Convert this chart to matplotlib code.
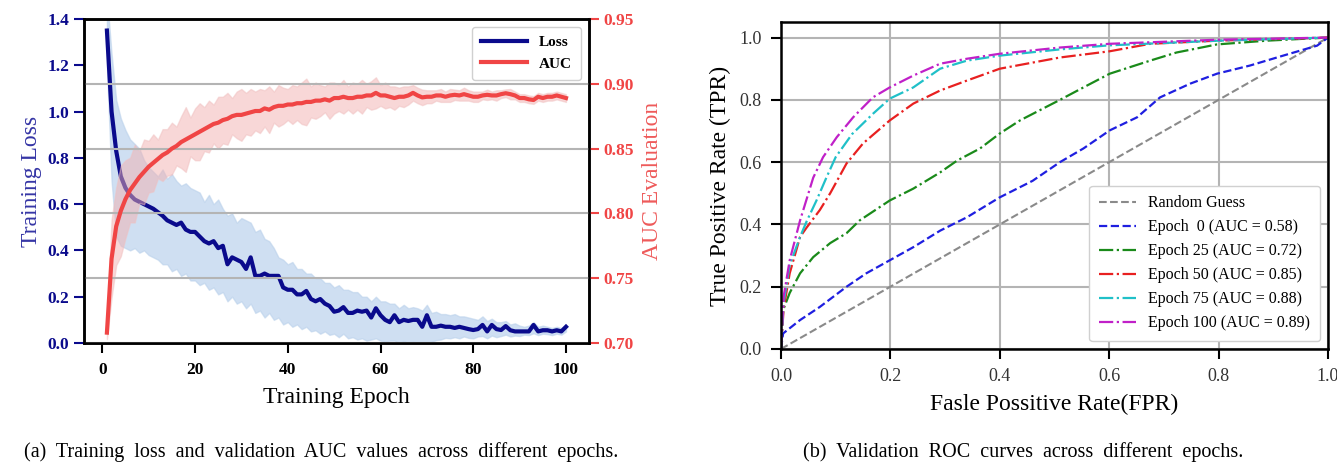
import numpy as np
import matplotlib
matplotlib.use("Agg")
import matplotlib.pyplot as plt

plt.rcParams["font.family"] = ["Liberation Serif", "DejaVu Serif"]
plt.rcParams["mathtext.fontset"] = "stix"

# ─── (a) training loss / validation AUC ──────────────────────────────────
epochs = list(range(1, 101))

loss_mean = [
    1.35, 1.00, 0.83, 0.72, 0.67, 0.64, 0.62, 0.61, 0.60, 0.59,
    0.58, 0.565, 0.55, 0.53, 0.52, 0.51, 0.52, 0.49, 0.48, 0.48,
    0.46, 0.44, 0.43, 0.44, 0.41, 0.42, 0.34, 0.37, 0.36, 0.35,
    0.32, 0.37, 0.29, 0.29, 0.30, 0.29, 0.29, 0.29, 0.24, 0.23,
    0.23, 0.21, 0.21, 0.225, 0.19, 0.18, 0.19, 0.17, 0.16, 0.135,
    0.14, 0.155, 0.13, 0.13, 0.14, 0.135, 0.14, 0.11, 0.15, 0.12,
    0.10, 0.09, 0.12, 0.09, 0.10, 0.095, 0.10, 0.10, 0.07, 0.12,
    0.07, 0.07, 0.075, 0.07, 0.07, 0.065, 0.07, 0.065, 0.06, 0.056,
    0.06, 0.078, 0.05, 0.078, 0.06, 0.056, 0.073, 0.055, 0.05, 0.05,
    0.05, 0.05, 0.078, 0.05, 0.055, 0.055, 0.05, 0.055, 0.05, 0.07,
]
loss_hi = [
    1.50, 1.25, 1.05, 0.97, 0.92, 0.88, 0.86, 0.84, 0.79, 0.76,
    0.74, 0.72, 0.75, 0.71, 0.73, 0.70, 0.68, 0.69, 0.67, 0.66,
    0.65, 0.61, 0.64, 0.60, 0.62, 0.58, 0.55, 0.56, 0.52, 0.54,
    0.53, 0.52, 0.48, 0.49, 0.45, 0.44, 0.41, 0.37, 0.36, 0.34,
    0.35, 0.32, 0.32, 0.30, 0.30, 0.28, 0.28, 0.26, 0.26, 0.24,
    0.25, 0.23, 0.23, 0.22, 0.22, 0.20, 0.20, 0.18, 0.20, 0.18,
    0.18, 0.17, 0.17, 0.15, 0.165, 0.15, 0.155, 0.15, 0.14, 0.165,
    0.13, 0.135, 0.125, 0.125, 0.12, 0.125, 0.115, 0.115, 0.11, 0.105,
    0.10, 0.115, 0.095, 0.105, 0.09, 0.09, 0.095, 0.08, 0.085, 0.075,
    0.07, 0.075, 0.09, 0.07, 0.075, 0.07, 0.065, 0.07, 0.065, 0.08,
]
loss_lo = [
    1.20, 0.70, 0.46, 0.42, 0.41, 0.40, 0.41, 0.39, 0.40, 0.38,
    0.37, 0.36, 0.34, 0.34, 0.31, 0.32, 0.29, 0.30, 0.27, 0.27,
    0.25, 0.26, 0.23, 0.24, 0.21, 0.22, 0.18, 0.20, 0.17, 0.18,
    0.15, 0.17, 0.13, 0.14, 0.11, 0.13, 0.10, 0.11, 0.08, 0.09,
    0.07, 0.08, 0.06, 0.07, 0.05, 0.055, 0.04, 0.05, 0.035, 0.04,
    0.025, 0.04, 0.02, 0.025, 0.015, 0.02, 0.01, 0.015, 0.02, 0.01,
    0.005, 0.01, 0.01, 0.0, 0.008, 0.0, 0.005, 0.0, 0.0, 0.0,
    0.005, 0.012, 0.015, 0.022, 0.02, 0.025, 0.02, 0.028, 0.022, 0.02,
    0.028, 0.03, 0.02, 0.032, 0.025, 0.03, 0.036, 0.028, 0.032, 0.03,
    0.036, 0.034, 0.042, 0.034, 0.04, 0.038, 0.034, 0.04, 0.036, 0.05,
]

auc_mean = [
    0.708, 0.765, 0.790, 0.802, 0.811, 0.818, 0.823, 0.828, 0.832, 0.836,
    0.839, 0.842, 0.845, 0.847, 0.850, 0.852, 0.855, 0.857, 0.859, 0.861,
    0.863, 0.865, 0.867, 0.869, 0.870, 0.872, 0.873, 0.875, 0.876, 0.876,
    0.877, 0.878, 0.879, 0.879, 0.881, 0.880, 0.882, 0.883, 0.883, 0.884,
    0.884, 0.885, 0.885, 0.886, 0.886, 0.887, 0.887, 0.888, 0.887, 0.889,
    0.889, 0.890, 0.889, 0.889, 0.890, 0.890, 0.891, 0.891, 0.893, 0.891,
    0.891, 0.890, 0.889, 0.890, 0.890, 0.891, 0.893, 0.891, 0.8895, 0.890,
    0.890, 0.891, 0.891, 0.890, 0.891, 0.8915, 0.891, 0.892, 0.891, 0.890,
    0.890, 0.891, 0.8915, 0.891, 0.891, 0.892, 0.8927, 0.892, 0.891, 0.889,
    0.889, 0.888, 0.8875, 0.890, 0.889, 0.890, 0.890, 0.891, 0.890, 0.889,
]
auc_spread = [
    0.005, 0.030, 0.030, 0.035, 0.030, 0.025, 0.030, 0.020, 0.025, 0.020,
    0.022, 0.015, 0.020, 0.018, 0.020, 0.015, 0.020, 0.025, 0.015, 0.020,
    0.022, 0.017, 0.020, 0.015, 0.020, 0.018, 0.020, 0.014, 0.018, 0.020,
    0.016, 0.018, 0.015, 0.017, 0.014, 0.018, 0.012, 0.016, 0.014, 0.012,
    0.015, 0.013, 0.016, 0.018, 0.012, 0.014, 0.012, 0.010, 0.014, 0.012,
    0.010, 0.013, 0.009, 0.012, 0.010, 0.013, 0.009, 0.011, 0.012, 0.008,
    0.010, 0.008, 0.009, 0.007, 0.008, 0.007, 0.006, 0.006, 0.006, 0.005,
    0.005, 0.004, 0.005, 0.004, 0.005, 0.004, 0.004, 0.005, 0.004, 0.004,
    0.004, 0.003, 0.004, 0.003, 0.004, 0.003, 0.003, 0.004, 0.003, 0.003,
    0.003, 0.003, 0.003, 0.003, 0.003, 0.003, 0.003, 0.003, 0.003, 0.003,
]

# ─── (b) ROC curves ──────────────────────────────────────────────────────
roc_labels = ["Epoch  0 (AUC = 0.58)", "Epoch 25 (AUC = 0.72)",
              "Epoch 50 (AUC = 0.85)", "Epoch 75 (AUC = 0.88)",
              "Epoch 100 (AUC = 0.89)"]
roc_fpr = [
    [0.0, 0.004, 0.035, 0.071, 0.12, 0.156, 0.199, 0.242, 0.291, 0.34, 0.40,
     0.46, 0.51, 0.553, 0.601, 0.651, 0.693, 0.748, 0.797, 0.857, 0.918, 0.98, 1.0],
    [0.0, 0.004, 0.016, 0.035, 0.059, 0.09, 0.12, 0.144, 0.199, 0.242, 0.291,
     0.322, 0.364, 0.40, 0.437, 0.51, 0.553, 0.601, 0.675, 0.723, 0.797, 0.888, 1.0],
    [0.0, 0.005, 0.016, 0.035, 0.047, 0.071, 0.09, 0.12, 0.15, 0.199, 0.242,
     0.291, 0.34, 0.40, 0.51, 0.601, 0.675, 0.797, 1.0],
    [0.0, 0.005, 0.016, 0.035, 0.047, 0.065, 0.083, 0.10, 0.13, 0.168, 0.199,
     0.242, 0.291, 0.34, 0.40, 0.51, 0.60, 0.80, 1.0],
    [0.0, 0.005, 0.016, 0.035, 0.059, 0.077, 0.102, 0.132, 0.168, 0.199, 0.242,
     0.291, 0.34, 0.40, 0.51, 0.601, 0.797, 1.0],
]
roc_tpr = [
    [0.0, 0.05, 0.093, 0.135, 0.20, 0.243, 0.285, 0.327, 0.38, 0.423, 0.487,
     0.54, 0.60, 0.644, 0.702, 0.744, 0.808, 0.852, 0.884, 0.91, 0.942, 0.974, 1.0],
    [0.0, 0.125, 0.18, 0.243, 0.295, 0.34, 0.372, 0.413, 0.477, 0.515, 0.567,
     0.605, 0.644, 0.692, 0.734, 0.80, 0.84, 0.884, 0.926, 0.952, 0.978, 0.99, 1.0],
    [0.0, 0.13, 0.243, 0.36, 0.39, 0.446, 0.50, 0.596, 0.66, 0.734, 0.788,
     0.83, 0.862, 0.90, 0.936, 0.956, 0.98, 0.99, 1.0],
    [0.0, 0.15, 0.27, 0.36, 0.41, 0.477, 0.55, 0.616, 0.69, 0.755, 0.804,
     0.84, 0.90, 0.926, 0.942, 0.962, 0.975, 0.99, 1.0],
    [0.0, 0.17, 0.285, 0.413, 0.55, 0.616, 0.68, 0.744, 0.808, 0.84, 0.878,
     0.916, 0.932, 0.948, 0.968, 0.98, 0.993, 1.0],
]
roc_colors = ["#1f1fe0", "#1a8a1a", "#e82020", "#20c0c8", "#c020c8"]
roc_styles = ["--", "-.", "-.", "-.", "-."]

NAVY = "#0a0a8c"
RED = "#f04545"

fig = plt.figure(figsize=(13.37, 4.62), dpi=100)

# ---------- panel (a)
ax1 = fig.add_axes([0.0628, 0.2576, 0.3777, 0.7013])
ax2 = ax1.twinx()

ax1.fill_between(epochs, loss_lo, loss_hi, color="#a9c6e8", alpha=0.55,
                 linewidth=1.0, edgecolor="#b7cfea")
l1, = ax1.plot(epochs, loss_mean, color=NAVY, lw=3, label="Loss")

auc_lo = [m - s for m, s in zip(auc_mean, auc_spread)]
auc_hi = [m + s for m, s in zip(auc_mean, auc_spread)]
ax2.fill_between(epochs, auc_lo, auc_hi, color="#f2b0b0", alpha=0.5,
                 linewidth=1.0, edgecolor="#f0c0c0")
l2, = ax2.plot(epochs, auc_mean, color=RED, lw=3, label="AUC")

ax1.set_ylim(0, 1.4)
ax2.set_ylim(0.70, 0.95)
ax1.set_yticks(np.arange(0, 1.41, 0.2))
ax2.set_yticks(np.arange(0.70, 0.951, 0.05))
ax1.set_xticks([0, 20, 40, 60, 80, 100])
ax2.grid(axis="y", color="#b4b4b4", lw=1.5)

for lab in ax1.get_yticklabels() + ax1.get_xticklabels() + ax2.get_yticklabels():
    lab.set_fontweight("bold")
ax1.tick_params(axis="y", colors=NAVY, labelsize=12.5, length=7, width=1.5)
ax1.tick_params(axis="x", colors="black", labelsize=12.5, length=7, width=1.5, pad=7)
ax2.tick_params(axis="y", colors=RED, labelsize=12.5, length=7, width=1.5)
for ax in (ax1, ax2):
    for sp in ax.spines.values():
        sp.set_linewidth(1.8)

ax1.set_xlabel("Training Epoch", fontsize=17, labelpad=6)
ax1.set_ylabel("Training Loss", fontsize=17, color="#3535a5", labelpad=4)
ax2.set_ylabel("AUC Evaluation", fontsize=17, color="#ee5a5a", labelpad=6)

ax2.legend(handles=[l1, l2], loc="upper right",
           prop={"weight": "bold", "size": 11},
           handlelength=3.0, borderpad=0.6, framealpha=1.0,
           edgecolor="#d0d0d0")

# ---------- panel (b)
ax3 = fig.add_axes([0.5841, 0.2446, 0.4092, 0.7078])
ax3.plot([0, 1], [0, 1], "--", color="#8a8a8a", lw=1.5, label="Random Guess")
for fp, tp, c, ls, lab in zip(roc_fpr, roc_tpr, roc_colors, roc_styles, roc_labels):
    ax3.plot(fp, tp, ls, color=c, lw=1.6, label=lab)
ax3.set_xlim(0, 1)
ax3.set_ylim(0, 1.05)
ax3.set_xticks(np.arange(0, 1.01, 0.2))
ax3.set_yticks(np.arange(0, 1.01, 0.2))
ax3.grid(color="#b4b4b4", lw=1.5)
ax3.set_axisbelow(True)
ax3.tick_params(labelsize=13, labelcolor="#333333", color="black",
                length=7, width=1.5, pad=7)
for sp in ax3.spines.values():
    sp.set_linewidth(1.8)
ax3.set_xlabel("Fasle Possitive Rate(FPR)", fontsize=17, labelpad=6)
ax3.set_ylabel("True Positive Rate (TPR)", fontsize=17, labelpad=6)
ax3.legend(loc="lower right", fontsize=11.5, handlelength=2.3,
           framealpha=1.0, edgecolor="#d0d0d0", borderpad=0.6)

# ---------- captions
fig.text(0.240, 0.010, "(a)  Training  loss  and  validation  AUC  values  across  different  epochs.",
         ha="center", fontsize=14.5)
fig.text(0.765, 0.010, "(b)  Validation  ROC  curves  across  different  epochs.",
         ha="center", fontsize=14.5)

fig.savefig("out.png", dpi=100)
